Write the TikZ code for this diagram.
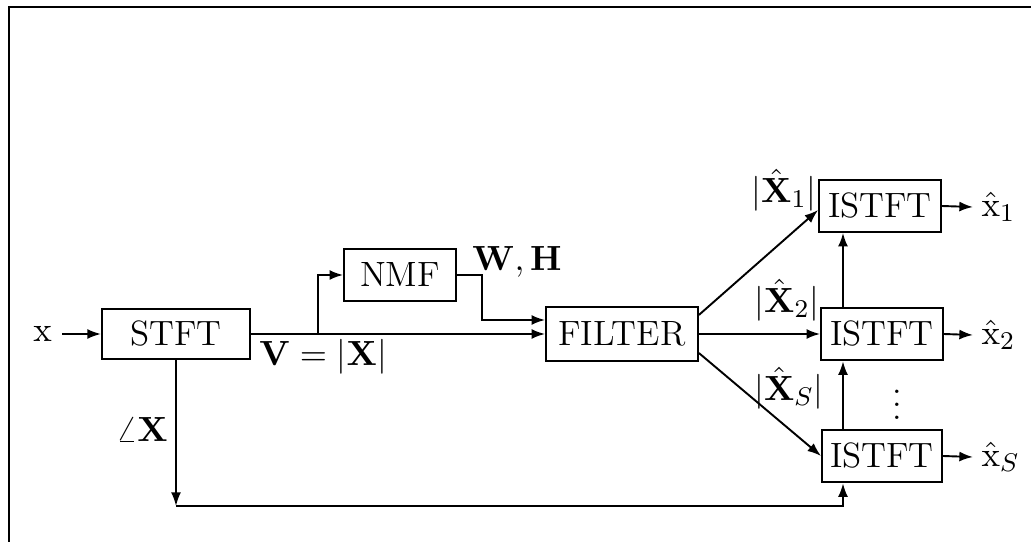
\documentclass[tikz,border=0pt]{standalone}
\usepackage{amsmath}
\usetikzlibrary{positioning,arrows.meta,calc}
\tikzset{
  blk/.style={draw,line width=0.6pt,minimum height=0.57cm,inner sep=2pt},
  sig/.style={-{Latex[length=1.5mm,width=1.1mm]},line width=0.6pt},
  lab/.style={inner sep=1pt},
}

\begin{document}
\begin{tikzpicture}[x=0.011cm,y=-0.011cm,font=\fontsize{11pt}{13pt}\selectfont]
  \useasboundingbox (0,0) rectangle (1031,542);
  \draw[line width=0.75pt] (9,542) -- (9,7) -- (1031,7);
  % blocks
  \node[blk,minimum width=1.63cm,minimum height=0.55cm] (stft) at (176,334) {STFT};
  \node[blk,minimum width=1.23cm] (nmf) at (400,275) {NMF};
  \node[blk,minimum width=1.67cm,minimum height=0.59cm] (filt) at (622,334) {FILTER};
  \node[blk,minimum width=1.34cm] (ist1) at (880,206) {ISTFT};
  \node[blk,minimum width=1.34cm,minimum height=0.58cm] (ist2) at (882,334) {ISTFT};
  \node[blk,minimum width=1.32cm,minimum height=0.58cm] (istS) at (882,456) {ISTFT};
  % in and out
  \node[anchor=east,inner sep=3pt] (inp) at (62,334) {$\mathrm{x}$};
  \node[anchor=west,inner sep=2.5pt] (out1) at (973,207) {$\hat{\mathrm{x}}_1$};
  \node[anchor=west,inner sep=2.5pt] (out2) at (973,335) {$\hat{\mathrm{x}}_2$};
  \node[anchor=west,inner sep=2.5pt] (outS) at (973,457) {$\hat{\mathrm{x}}_S$};
  \coordinate (br) at (318,334);
  \coordinate (tap) at (843,506);
  \coordinate (phase) at (stft.south |- tap);
  % connectors
  \draw[sig] (inp.east) -- (stft.west);
  \draw[sig] (stft.east) -- (filt.west);
  \draw[sig] (br) |- (nmf.west);
  \draw[sig] (nmf.east) -- ++(25,0) |- ($(filt.west)+(0,-14)$);
  \draw[sig] ($(filt.east)+(0,-19)$) -- ($(ist1.west)+(0,4)$);
  \draw[sig] (filt.east) -- (ist2.west);
  \draw[sig] ($(filt.east)+(0,19)$) -- (istS.west);
  \draw[sig] (tap |- ist2.north) -- (tap |- ist1.south);
  \draw[sig] (tap |- istS.north) -- (tap |- ist2.south);
  \draw[sig] (stft.south) -- (phase);
  \draw[sig] (phase) -- (tap) -- (tap |- istS.south);
  \draw[sig] (ist1.east) -- (out1.west);
  \draw[sig] (ist2.east) -- (out2.west);
  \draw[sig] (istS.east) -- (outS.west);
  % labels
  \node[lab] (vlab) at (323,357) {$\mathbf{V}=|\mathbf{X}|$};
  \node[lab] (wh) at (517,262) {$\mathbf{W},\mathbf{H}$};
  \node[lab] (ang) at (142,430) {$\angle\mathbf{X}$};
  \node[lab] (m1) at (784,190) {$|\hat{\mathbf{X}}_1|$};
  \node[lab] (m2) at (787,300) {$|\hat{\mathbf{X}}_2|$};
  \node[lab] (mS) at (789,388) {$|\hat{\mathbf{X}}_S|$};
  \node[lab] (dots) at (897,395) {$\vdots$};
\end{tikzpicture}
\end{document}
